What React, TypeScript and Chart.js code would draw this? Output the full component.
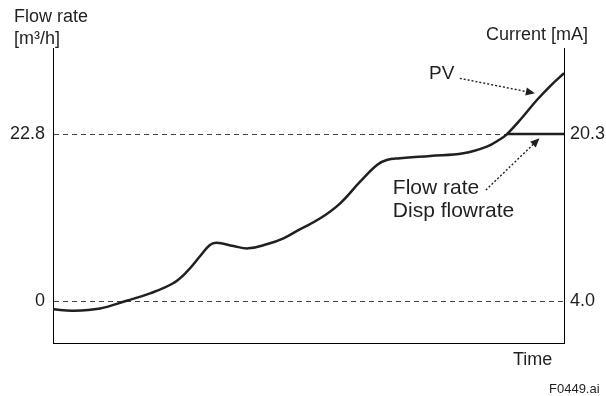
import React, { useEffect, useRef } from 'react';
import { Chart, registerables } from 'chart.js';

Chart.register(...registerables);

// ---- data ----
const timeValues = [0, 3.9, 9.2, 14.4, 19.0, 23.5, 26.2, 28.8, 30.7, 32.0, 35.3, 38.2, 41.8, 45.1, 48.3, 52.3, 56.2, 60.1, 63.4, 65.3, 67.9, 73.8, 80.3, 84.9, 87.5, 88.8, 91.4, 94.7, 97.3, 100];
const pvValues = [-1.13, -1.32, -1.02, 0.04, 1.05, 2.42, 4.0, 6.14, 7.65, 7.96, 7.51, 7.19, 7.74, 8.56, 9.79, 11.29, 13.34, 16.29, 18.57, 19.25, 19.48, 19.8, 20.16, 21.07, 22.08, 22.76, 24.71, 27.44, 29.35, 31.09];
const flowTimes = [88.8, 100];
const flowValues = [22.8, 22.8];
const leftTicks = [0, 22.8];
const rightTicks = [4.0, 20.3];
const flowRange = [-5.73, 34.54];
const currentRange = [-0.1, 28.69];
const timeRange = [0, 100];

const FONT = '"Liberation Sans", Arial, Helvetica, sans-serif';
const INK = '#231f20';

function drawArrow(ctx: CanvasRenderingContext2D, x1: number, y1: number, x2: number, y2: number) {
  const ang = Math.atan2(y2 - y1, x2 - x1);
  const head = 9;
  const hw = 4;
  const bx = x2 - head * Math.cos(ang);
  const by = y2 - head * Math.sin(ang);
  ctx.save();
  ctx.strokeStyle = INK;
  ctx.fillStyle = INK;
  ctx.lineWidth = 1.4;
  ctx.setLineDash([2, 2]);
  ctx.beginPath();
  ctx.moveTo(x1, y1);
  ctx.lineTo(bx, by);
  ctx.stroke();
  ctx.setLineDash([]);
  ctx.beginPath();
  ctx.moveTo(x2, y2);
  ctx.lineTo(bx - hw * Math.sin(ang), by + hw * Math.cos(ang));
  ctx.lineTo(bx + hw * Math.sin(ang), by - hw * Math.cos(ang));
  ctx.closePath();
  ctx.fill();
  ctx.restore();
}

const annotations = {
  id: 'annotations',
  afterDraw(chart: any) {
    const { ctx } = chart;
    const x = chart.scales.x;
    const y = chart.scales.y;
    ctx.save();
    ctx.fillStyle = INK;
    ctx.textAlign = 'left';
    ctx.textBaseline = 'alphabetic';
    ctx.font = `18px ${FONT}`;
    ctx.fillText('Flow rate', 14, 22);
    ctx.fillText('[m³/h]', 14, 44);
    ctx.fillText('Current [mA]', 486, 40);
    ctx.fillText('Time', 513, 365);
    ctx.font = `13px ${FONT}`;
    ctx.fillText('F0449.ai', 549, 393);

    ctx.font = `19px ${FONT}`;
    ctx.fillText('PV', x.getPixelForValue(73.6), y.getPixelForValue(30.27));
    ctx.font = `21px ${FONT}`;
    ctx.fillText('Flow rate', x.getPixelForValue(66.5), y.getPixelForValue(14.57));
    ctx.fillText('Disp flowrate', x.getPixelForValue(66.5), y.getPixelForValue(11.43));
    ctx.restore();

    drawArrow(ctx, x.getPixelForValue(79.6), y.getPixelForValue(30.4), x.getPixelForValue(94.3), y.getPixelForValue(28.36));
    drawArrow(ctx, x.getPixelForValue(84.7), y.getPixelForValue(15.15), x.getPixelForValue(95.2), y.getPixelForValue(22.21));
  },
};

export default function App() {
  const ref = useRef<HTMLCanvasElement | null>(null);

  useEffect(() => {
    if (!ref.current) return;
    const chart = new Chart(ref.current, {
      type: 'line',
      data: {
        datasets: [
          {
            label: 'PV',
            data: timeValues.map((t, i) => ({ x: t, y: pvValues[i] })),
            borderColor: INK,
            borderWidth: 2.5,
            pointRadius: 0,
            tension: 0.4,
            borderJoinStyle: 'round',
            fill: false,
            yAxisID: 'y',
          },
          {
            label: 'Flow rate / Disp flowrate',
            data: flowTimes.map((t, i) => ({ x: t, y: flowValues[i] })),
            borderColor: INK,
            borderWidth: 2.5,
            pointRadius: 0,
            fill: false,
            yAxisID: 'y',
          },
        ],
      },
      options: {
        animation: false,
        responsive: false,
        devicePixelRatio: 1,
        layout: { padding: { top: 48, left: 0, right: 0, bottom: 0 } },
        plugins: { legend: { display: false }, tooltip: { enabled: false } },
        scales: {
          x: {
            type: 'linear',
            min: timeRange[0],
            max: timeRange[1],
            ticks: { display: false },
            grid: { display: false },
            border: { display: true, color: '#000', width: 1 },
            afterFit: (s: any) => { s.height = 53; },
          },
          y: {
            type: 'linear',
            position: 'left',
            min: flowRange[0],
            max: flowRange[1],
            afterBuildTicks: (s: any) => { s.ticks = leftTicks.map((v) => ({ value: v })); },
            ticks: {
              padding: 8,
              color: INK,
              font: { family: FONT, size: 18 },
              callback: (v: any) => (Number(v) === 0 ? '0' : String(v)),
            },
            grid: { display: true, drawTicks: false, color: '#444', lineWidth: 1 },
            border: { display: true, color: '#000', width: 1, dash: [5, 4] },
            afterFit: (s: any) => { s.width = 53; },
          },
          y2: {
            type: 'linear',
            position: 'right',
            min: currentRange[0],
            max: currentRange[1],
            afterBuildTicks: (s: any) => { s.ticks = rightTicks.map((v) => ({ value: v })); },
            ticks: {
              padding: 6,
              color: INK,
              font: { family: FONT, size: 18 },
              callback: (v: any) => Number(v).toFixed(1),
            },
            grid: { display: false, drawTicks: false },
            border: { display: true, color: '#000', width: 1 },
            afterFit: (s: any) => { s.width = 42; },
          },
        },
      },
      plugins: [annotations],
    });
    return () => chart.destroy();
  }, []);

  return (
    <div style={{ position: 'absolute', left: 0, top: 0, width: 606, height: 396, background: '#fff' }}>
      <canvas ref={ref} width={606} height={396} style={{ width: 606, height: 396 }} />
    </div>
  );
}
